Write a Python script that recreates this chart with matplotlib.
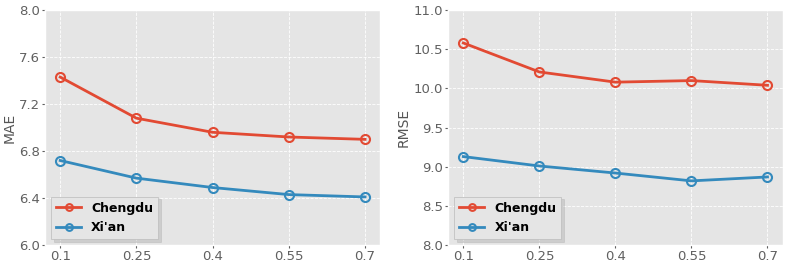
import matplotlib
matplotlib.use("Agg")
import matplotlib.pyplot as plt

plt.style.use("ggplot")

x_vals = [0.1, 0.25, 0.4, 0.55, 0.7]
x_labels = ["0.1", "0.25", "0.4", "0.55", "0.7"]
mae_chengdu = [7.43, 7.08, 6.96, 6.92, 6.90]
mae_xian = [6.72, 6.57, 6.49, 6.43, 6.41]
rmse_chengdu = [10.58, 10.21, 10.08, 10.10, 10.04]
rmse_xian = [9.13, 9.01, 8.92, 8.82, 8.87]

red = "#E24A33"
blue = "#348ABD"

fig = plt.figure(figsize=(7.89, 2.65), dpi=100)
ax1 = fig.add_axes([0.057, 0.075, 0.425, 0.887])
ax2 = fig.add_axes([0.568, 0.075, 0.424, 0.887])

def draw(ax, c, x, ylabel, ylim, yticks, fmt):
    ax.plot(x_vals, c, color=red, lw=2, marker="o", ms=6.5, mfc="none", mew=1.5, label="Chengdu")
    ax.plot(x_vals, x, color=blue, lw=2, marker="o", ms=6.5, mfc="none", mew=1.5, label="Xi'an")
    ax.set_ylim(*ylim)
    ax.set_yticks(yticks)
    ax.set_yticklabels([fmt.format(v) for v in yticks])
    ax.set_xticks(x_vals)
    ax.set_xticklabels(x_labels)
    ax.set_ylabel(ylabel, fontsize=10, color="#555555", labelpad=2)
    ax.tick_params(labelsize=9.5, colors="#606060", length=2, pad=1.5)
    ax.grid(True, color="white", linestyle="--", linewidth=0.6)
    leg = ax.legend(loc="lower left", prop={"weight": "bold", "size": 9}, frameon=True,
                    shadow={"alpha": 0.15}, fancybox=False, edgecolor="#bbbbbb", framealpha=1,
                    facecolor="#e5e5e5", markerscale=0.75, borderaxespad=0.5)
    for t in leg.get_texts():
        t.set_color("black")

draw(ax1, mae_chengdu, mae_xian, "MAE", (6.0, 8.0), [6.0, 6.4, 6.8, 7.2, 7.6, 8.0], "{:.1f}")
draw(ax2, rmse_chengdu, rmse_xian, "RMSE", (8.0, 11.0), [8.0, 8.5, 9.0, 9.5, 10.0, 10.5, 11.0], "{:.1f}")

fig.savefig("out.png", dpi=100)
